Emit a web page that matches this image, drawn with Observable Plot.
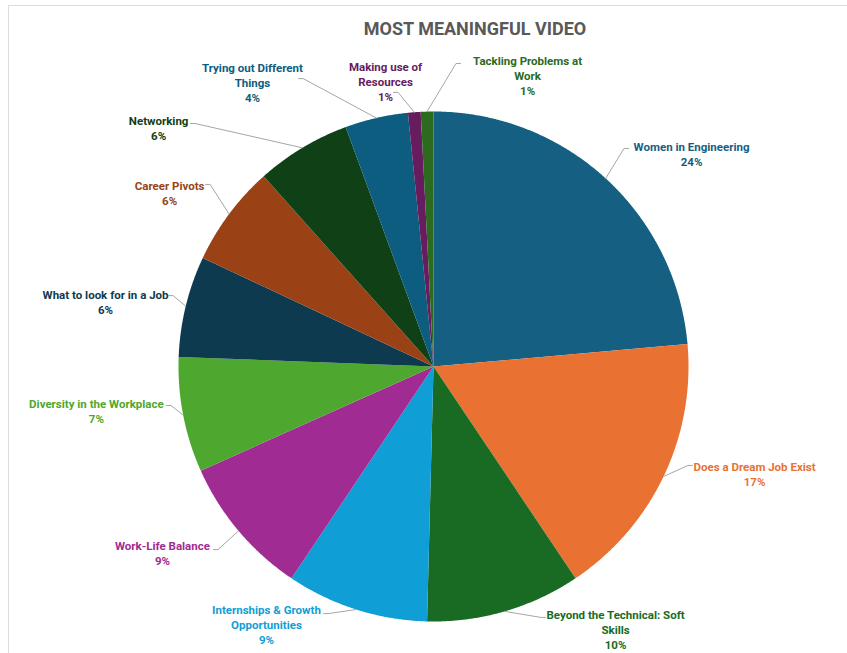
<!DOCTYPE html>
<html><head><meta charset="utf-8">
<script src="https://cdn.jsdelivr.net/npm/d3@7"></script>
<script src="https://cdn.jsdelivr.net/npm/@observablehq/plot@0.6"></script>
<style>
body{margin:0;background:#fff;font-family:Roboto, sans-serif;}
#wrap{position:relative;width:847px;height:653px;overflow:hidden;background:#fff;}
#frame{position:absolute;left:8px;top:5px;width:860px;height:700px;border:1px solid #dcdcdc;}
#title{position:absolute;top:18px;left:0;width:950px;text-align:center;font:700 18px Roboto, sans-serif;line-height:22px;color:#595959;}
#chart{position:absolute;top:45px;left:0;}
</style></head><body>
<div id="wrap"><div id="frame"></div><div id="title">MOST MEANINGFUL VIDEO</div><div id="chart"></div></div>
<script>
// ---- data ----
const categories = [
  "Women in Engineering", "Does a Dream Job Exist", "Beyond the Technical: Soft Skills",
  "Internships & Growth Opportunities", "Work-Life Balance", "Diversity in the Workplace",
  "What to look for in a Job", "Career Pivots", "Networking",
  "Trying out Different Things", "Making use of Resources", "Tackling Problems at Work"
];
const shares = [23.6, 17.0, 9.8, 9.0, 8.9, 7.3, 6.4, 6.4, 6.0, 4.0, 0.8, 0.8];
const labelLines = [
  "Women in Engineering", "Does a Dream Job Exist", "Beyond the Technical: Soft\nSkills",
  "Internships & Growth\nOpportunities", "Work-Life Balance", "Diversity in the Workplace",
  "What to look for in a Job", "Career Pivots", "Networking",
  "Trying out Different\nThings", "Making use of\nResources", "Tackling Problems at\nWork"
];
const colors = ["#156082", "#e97132", "#196b24", "#0f9ed5", "#a02b93", "#4ea72e",
                "#0e3a4f", "#9a4216", "#0f4016", "#0c5d80", "#661c5e", "#2c6a1f"];

// ---- layout (pie-radius units, relative to pie centre) ----
const labelPos = [[1.012,-0.835],[1.259,0.420],[0.714,1.031],[-0.655,1.012],[-1.063,0.729],[-1.322,0.173],
                  [-1.286,-0.255],[-1.035,-0.682],[-1.078,-0.937],[-0.710,-1.114],[-0.188,-1.118],[0.369,-1.141]];
const leaderStart = [[0.765,-0.855],[1.016,0.388],[0.439,0.984],[-0.431,0.969],[-0.863,0.718],[-1.047,0.153],
                     [-1.039,-0.278],[-0.894,-0.714],[-0.953,-0.953],[-0.529,-1.129],[-0.157,-1.075],[0.106,-1.188]];

// ---- build geometry from data ----
const arcs = d3.pie().sort(null).value(d => d)(shares);
const slices = arcs.map((p, i) => {
  const ring = [[0, 0]];
  const n = Math.max(4, Math.ceil((p.endAngle - p.startAngle) / 0.005));
  for (let k = 0; k <= n; k++) {
    const a = p.startAngle + (p.endAngle - p.startAngle) * k / n;
    ring.push([Math.sin(a), -Math.cos(a)]);
  }
  ring.push([0, 0]);
  return {type: "Feature", properties: {name: categories[i]}, geometry: {type: "Polygon", coordinates: [ring]}};
});

const labels = categories.map((name, i) => ({
  name,
  text: labelLines[i] + "\n" + Math.round(shares[i]) + "%",
  x: labelPos[i][0], y: labelPos[i][1]
}));

const leaders = [];
arcs.forEach((p, i) => {
  const mid = (p.startAngle + p.endAngle) / 2;
  const ex = Math.sin(mid), ey = -Math.cos(mid);
  const [sx, sy] = leaderStart[i];
  const dir = Math.sign(ex - sx) || 1;
  leaders.push({name: categories[i], x: sx, y: sy});
  leaders.push({name: categories[i], x: sx + dir * 0.018, y: sy});
  leaders.push({name: categories[i], x: ex, y: ey});
});

const domainShape = {type: "MultiPoint", coordinates: [[-1, 0], [1, 0], [0, -1], [0, 1]]};

const chart = Plot.plot({
  width: 847,
  height: 608,
  marginTop: 66,
  marginBottom: 32,
  marginLeft: 178,
  marginRight: 159,
  projection: {type: "identity", domain: domainShape, clip: false},
  color: {domain: categories, range: colors},
  style: {background: "transparent", fontFamily: "Roboto, sans-serif"},
  marks: [
    Plot.geo(slices, {fill: d => d.properties.name, stroke: "none"}),
    Plot.line(leaders, {x: "x", y: "y", z: "name", stroke: "#a6a6a6", strokeWidth: 1}),
    Plot.text(labels, {x: "x", y: "y", text: "text", fill: "name", fontWeight: 700, fontSize: 11.5,
                       lineHeight: 1.3, lineAnchor: "middle", textAnchor: "middle"})
  ]
});
document.getElementById("chart").appendChild(chart);
</script>
</body></html>
